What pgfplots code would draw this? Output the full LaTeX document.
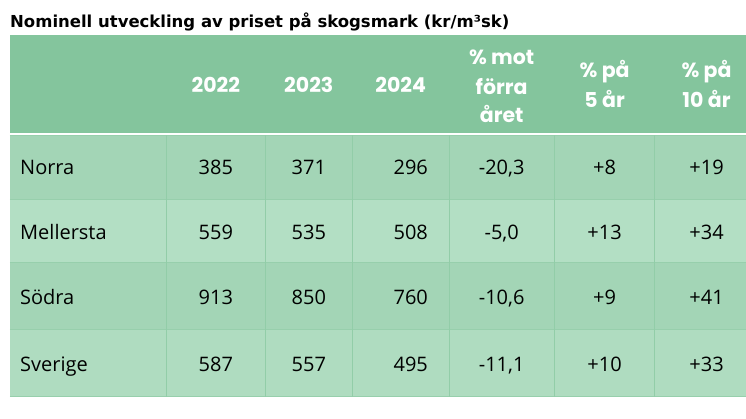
\documentclass[border=0pt]{standalone}
\usepackage{pgfplots}
\pgfplotsset{compat=1.18}
\usepackage{fontspec}
\setmainfont{Open Sans}
\newfontfamily\titlefont{DejaVu Sans}
\newfontfamily\headfont{Poppins}
\definecolor{headbg}{HTML}{84C59D}
\definecolor{rowdark}{HTML}{A3D5B6}
\definecolor{rowlight}{HTML}{B3DFC4}
\definecolor{rowlight2}{HTML}{AFDCC0}
\definecolor{sepv}{HTML}{92CDA8}
\definecolor{seph}{HTML}{97CFAC}
\pgfplotsset{
  txt/.style={draw=none, no marks, nodes near coords={\pgfplotspointmeta},
    point meta=explicit symbolic,
    every node near coord/.append style={anchor=base, inner sep=0pt, text=black}},
}
\begin{document}
\begin{tikzpicture}
\begin{axis}[
  width=746pt, height=419pt, scale only axis,
  xmin=0, xmax=746, ymin=0, ymax=419, y dir=reverse,
  axis lines=none, ticks=none, clip=false,
]
% background
\addplot[fill=white, draw=none] coordinates {(0,0) (746,0) (746,419) (0,419)} -- cycle;
% header and row bands
\addplot[fill=headbg, draw=none] coordinates {(10,35) (746,35) (746,133.5) (10,133.5)} -- cycle;
\addplot[fill=rowdark, draw=none] coordinates {(10,135.5) (746,135.5) (746,200) (10,200)} -- cycle;
\addplot[fill=rowlight, draw=none] coordinates {(10,200) (746,200) (746,263) (10,263)} -- cycle;
\addplot[fill=rowdark, draw=none] coordinates {(10,263) (746,263) (746,330) (10,330)} -- cycle;
\addplot[fill=rowlight2, draw=none] coordinates {(10,330) (746,330) (746,397) (10,397)} -- cycle;
% separators
\addplot[seph, line width=1pt] coordinates {(10,200) (746,200)};
\addplot[seph, line width=1pt] coordinates {(10,263) (746,263)};
\addplot[seph, line width=1pt] coordinates {(10,330) (746,330)};
\addplot[seph, line width=1pt] coordinates {(10,396.5) (746,396.5)};
\addplot[seph, line width=1pt] coordinates {(10,135.5) (746,135.5)};
\addplot[sepv, line width=1pt] coordinates {(167,135.5) (167,397)};
\addplot[sepv, line width=1pt] coordinates {(266,135.5) (266,397)};
\addplot[sepv, line width=1pt] coordinates {(353,135.5) (353,397)};
\addplot[sepv, line width=1pt] coordinates {(450,135.5) (450,397)};
\addplot[sepv, line width=1pt] coordinates {(555,135.5) (555,397)};
\addplot[sepv, line width=1pt] coordinates {(655,135.5) (655,397)};
% title
\addplot[txt, every node near coord/.append style={anchor=base west, font=\titlefont\bfseries\fontsize{16.5}{20}\selectfont}]
  table[x=x, y=y, meta=lab, col sep=semicolon] {
x;y;lab
10;28;Nominell utveckling av priset på skogsmark (kr/m³sk)
};
% header
\addplot[txt, every node near coord/.append style={text=white, font=\headfont\bfseries\fontsize{20.5}{22}\selectfont}]
  table[x=x, y=y, meta=lab, col sep=semicolon] {
x;y;lab
216;93;2022
309;93;2023
401;93;2024
502;65;\% mot
502;95;förra
502;123;året
605;78;\% på
605;108;5 år
707;78;\% på
707;108;10 år
};
% row names
\addplot[txt, every node near coord/.append style={anchor=base west, font=\fontsize{20}{22}\selectfont}]
  table[x=x, y=y, meta=lab, col sep=semicolon] {
x;y;lab
20;175;Norra
20;240;Mellersta
20;305;Södra
20;372;Sverige
};
% values
\addplot[txt, every node near coord/.append style={font=\fontsize{20}{22}\selectfont}]
  table[x=x, y=y, meta=lab, col sep=semicolon] {
x;y;lab
216;175;385
309;175;371
411;175;296
502;175;-20,3
605;175;+8
707;175;+19
216;240;559
309;240;535
411;240;508
502;240;-5,0
605;240;+13
707;240;+34
216;305;913
309;305;850
411;305;760
502;305;-10,6
605;305;+9
707;305;+41
216;372;587
309;372;557
411;372;495
502;372;-11,1
605;372;+10
707;372;+33
};
\end{axis}
\end{tikzpicture}
\end{document}
